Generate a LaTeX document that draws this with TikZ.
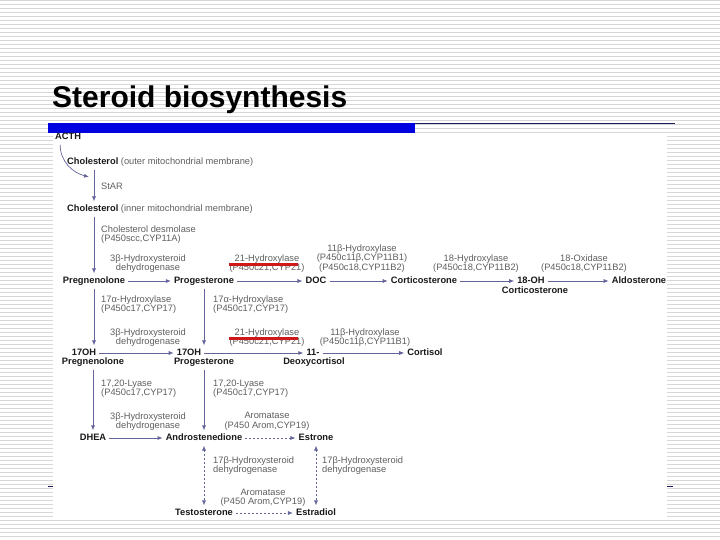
\documentclass[tikz,border=0pt]{standalone}
\usepackage{fontspec}
\setmainfont{Liberation Sans}
\usetikzlibrary{arrows.meta}
\definecolor{stripe}{RGB}{214,214,214}
\definecolor{barblue}{RGB}{0,0,225}
\definecolor{navy}{RGB}{30,30,90}
\definecolor{arrowc}{RGB}{100,100,155}
\definecolor{enzgray}{RGB}{95,95,95}
\definecolor{metblack}{RGB}{25,25,25}
\definecolor{redmark}{RGB}{205,25,25}

\begin{document}
\begin{tikzpicture}[x=1pt, y=-1pt,
	met/.style={font=\fontsize{9.3}{9.5}\selectfont\bfseries, text=metblack, inner sep=3pt, text height=6.8pt, text depth=2pt},
	enz/.style={font=\fontsize{9.3}{9.5}\selectfont, text=enzgray, align=center, inner sep=0pt},
	conv/.style={draw=arrowc, line width=0.7pt, -{Latex[length=5pt,width=4pt]}},
	dconv/.style={conv, dash pattern=on 2pt off 2pt},
	biconv/.style={dconv, {Latex[length=5pt,width=4pt]}-{Latex[length=5pt,width=4pt]}},
	underline21/.style={draw=redmark, line width=3pt}]
	
	\useasboundingbox (0,0) rectangle (720,540);
	\foreach \y in {0.5,4.5,...,538.5}
		\draw[stripe, line width=1pt] (0,\y) -- (720,\y);
	
	\node [anchor=base west, inner sep=0pt, font=\fontsize{30}{30}\selectfont\bfseries] (title) at (52,108) {Steroid biosynthesis};
	\fill[barblue] (48,123) rectangle (415,133);
	\draw[navy, line width=1.2pt] (415,123.5) -- (675,123.5);
	\draw[navy, line width=1pt] (48,486) -- (673,486);
	\fill[white] (53,133) rectangle (667,519);
	
	\node [met, anchor=west] (acth) at (52,137) {ACTH};
	\node [met, anchor=west] (chol1) at (64,162) {Cholesterol {\mdseries\color{enzgray}(outer mitochondrial membrane)}};
	\node [enz, anchor=west] (star) at (101,186) {StAR};
	\node [met, anchor=west] (chol2) at (64,209) {Cholesterol {\mdseries\color{enzgray}(inner mitochondrial membrane)}};
	\node [enz, anchor=west, align=left] (desm) at (101,234.5) {Cholesterol desmolase\\(P450scc,CYP11A)};
	
	\node [met] (preg) at (94,281) {Pregnenolone};
	\node [met] (prog) at (204,281) {Progesterone};
	\node [met] (doc) at (316,281) {DOC};
	\node [met] (cort) at (424,281) {Corticosterone};
	\node [met] (oh18) at (531,281) {18-OH};
	\node [met] (oh18b) at (535,291) {Corticosterone};
	\node [met] (aldo) at (639,281) {Aldosterone};
	
	\node [enz] (hsd1) at (148,263.5) {3β-Hydroxysteroid\\dehydrogenase};
	\node [enz] (hyd21a) at (267,263.5) {21-Hydroxylase\\(P450c21,CYP21)};
	\node [enz] (hyd11a) at (362,258.5) {11β-Hydroxylase\\(P450c11β,CYP11B1)\\(P450c18,CYP11B2)};
	\node [enz] (hyd18) at (476,263.5) {18-Hydroxylase\\(P450c18,CYP11B2)};
	\node [enz] (oxi18) at (584,263.5) {18-Oxidase\\(P450c18,CYP11B2)};
	
	\node [enz, anchor=west, align=left] (hyd17a) at (101,304.5) {17α-Hydroxylase\\(P450c17,CYP17)};
	\node [enz, anchor=west, align=left] (hyd17b) at (213,304.5) {17α-Hydroxylase\\(P450c17,CYP17)};
	
	\node [met] (ohpreg) at (84,353) {17OH};
	\node [met] (ohpregb) at (93,362) {Pregnenolone};
	\node [met] (ohprog) at (189,353) {17OH};
	\node [met] (ohprogb) at (204,362) {Progesterone};
	\node [met] (deoxa) at (313,353) {11-};
	\node [met] (deoxb) at (314,362) {Deoxycortisol};
	\node [met] (cortisol) at (425,353) {Cortisol};
	
	\node [enz] (hsd2) at (148,337.5) {3β-Hydroxysteroid\\dehydrogenase};
	\node [enz] (hyd21b) at (267,337.5) {21-Hydroxylase\\(P450c21,CYP21)};
	\node [enz] (hyd11b) at (365,337.5) {11β-Hydroxylase\\(P450c11β,CYP11B1)};
	
	\node [enz, anchor=west, align=left] (lyasea) at (101,388.5) {17,20-Lyase\\(P450c17,CYP17)};
	\node [enz, anchor=west, align=left] (lyaseb) at (213,388.5) {17,20-Lyase\\(P450c17,CYP17)};
	
	\node [met] (dhea) at (93,438) {DHEA};
	\node [met] (andro) at (204,438) {Androstenedione};
	\node [met] (estrone) at (316,438) {Estrone};
	\node [enz] (hsd3) at (148,421.5) {3β-Hydroxysteroid\\dehydrogenase};
	\node [enz] (arom1) at (267,421.5) {Aromatase\\(P450 Arom,CYP19)};
	
	\node [enz, anchor=west, align=left] (hsd17a) at (213,465.5) {17β-Hydroxysteroid\\dehydrogenase};
	\node [enz, anchor=west, align=left] (hsd17b) at (322,465.5) {17β-Hydroxysteroid\\dehydrogenase};
	\node [enz] (arom2) at (263,498) {Aromatase\\(P450 Arom,CYP19)};
	\node [met] (testo) at (204,513) {Testosterone};
	\node [met] (estradiol) at (316,513) {Estradiol};
	
	\coordinate (acthin) at (89,177);
	\draw[conv] ([xshift=-8pt]acth.south) to[out=-90, in=165] (acthin);
	\draw[conv] (chol1.south -| preg) -- (chol2.north -| preg);
	\draw[conv] (chol2.south -| preg) -- (preg);
	\draw[conv] (preg) -- (prog);
	\draw[conv] (prog) -- (doc);
	\draw[conv] (doc) -- (cort);
	\draw[conv] (cort) -- (oh18);
	\draw[conv] (oh18) -- (aldo);
	
	\draw[conv] (preg) -- (ohpreg.north -| preg);
	\draw[conv] (prog) -- (ohprog.north -| prog);
	\draw[conv] (ohpreg) -- (ohprog);
	\draw[conv] (ohprog) -- (deoxa);
	\draw[conv] (deoxa) -- (cortisol);
	
	\draw[conv] (ohpregb) -- (dhea);
	\draw[conv] (ohprogb) -- (andro);
	\draw[conv] (dhea) -- (andro);
	\draw[dconv] (andro) -- (estrone);
	
	\draw[biconv] (andro) -- (testo);
	\draw[biconv] (estrone) -- (estradiol);
	\draw[dconv] (testo) -- (estradiol);
	
	\draw[underline21] (229,264) -- (298,264);
	\draw[underline21] (229,338) -- (298,338);
\end{tikzpicture}
\end{document}
